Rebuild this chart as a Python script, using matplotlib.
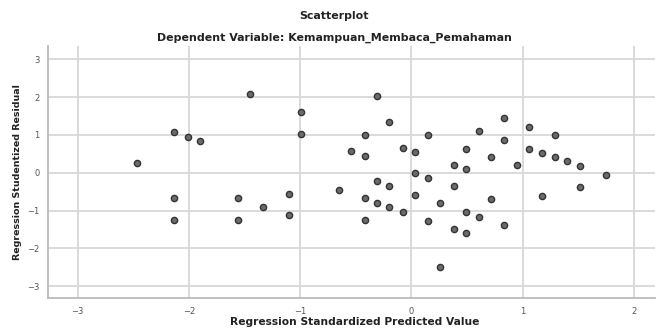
import numpy as np
import matplotlib.pyplot as plt

# predicted (standardized) vs studentized residual
pred = [-2.47, -2.13, -2.01, -1.90, -1.45, -0.99, -0.99, -2.13, -2.13, -1.56,
        -1.56, -1.33, -1.10, -1.10, -0.31, -0.20, -0.42, 0.15, 0.61, -0.54,
        -0.42, -0.08, 0.03, 0.49, 0.38, 0.49, 0.03, 0.15, -0.31, -0.20,
        -0.65, 0.38, 0.03, -0.42, -0.31, -0.20, -0.08, 0.26, 0.49, 0.61,
        -0.42, 0.15, 0.38, 0.49, 0.26, 0.83, 1.06, 1.29, 0.83, 0.72,
        1.06, 1.17, 1.29, 1.40, 1.52, 1.75, 0.95, 1.52, 0.72, 1.17, 0.83]
resid = [0.27, 1.08, 0.95, 0.83, 2.07, 1.60, 1.02, -0.67, -1.25, -0.67,
         -1.25, -0.91, -0.56, -1.13, 2.02, 1.34, 1.01, 1.00, 1.10, 0.57,
         0.44, 0.66, 0.55, 0.64, 0.20, 0.09, -0.02, -0.13, -0.23, -0.35,
         -0.45, -0.36, -0.58, -0.67, -0.80, -0.91, -1.03, -0.81, -1.04, -1.16,
         -1.25, -1.27, -1.49, -1.60, -2.50, 1.44, 1.21, 0.99, 0.87, 0.42,
         0.64, 0.53, 0.42, 0.30, 0.19, -0.05, 0.20, -0.39, -0.70, -0.61, -1.39]
xticks = [-3, -2, -1, 0, 1, 2]
yticks = [-3, -2, -1, 0, 1, 2, 3]

W, H = 658, 330
fig = plt.figure(figsize=(W/100, H/100), dpi=100)
ax = fig.add_axes([47.7/W, 1 - 298.3/H, (655 - 47.7)/W, (298.3 - 46)/H])

ax.scatter(pred, resid, s=20, color='#6b6b6b', edgecolors='#333333', linewidths=1.0, zorder=3)

ax.set_xlim(-3.27, 2.19)
ax.set_ylim(-3.32, 3.35)
ax.set_xticks(xticks)
ax.set_yticks(yticks)
ax.grid(True, color='#d8d8d8', linewidth=1.3)
ax.set_axisbelow(True)

ax.tick_params(axis='both', colors='#555555', labelsize=6, length=0, pad=6)
for s in ['top', 'right']:
    ax.spines[s].set_visible(False)
for s in ['left', 'bottom']:
    ax.spines[s].set_color('#bbbbbb')
    ax.spines[s].set_linewidth(1.3)

txt = dict(ha='center', va='center', fontweight='bold', color='#222222')
fig.text(334/W, 1 - 16/H, 'Scatterplot', fontsize=7.9, **txt)
fig.text(334/W, 1 - 38/H, 'Dependent Variable: Kemampuan_Membaca_Pemahaman', fontsize=7.9, **txt)
fig.text(355/W, 1 - 322/H, 'Regression Standardized Predicted Value', fontsize=7.7, **txt)
fig.text(18/W, 1 - 172/H, 'Regression Studentized Residual', fontsize=6.8, rotation=90, **txt)

plt.savefig('out.png', dpi=100)
